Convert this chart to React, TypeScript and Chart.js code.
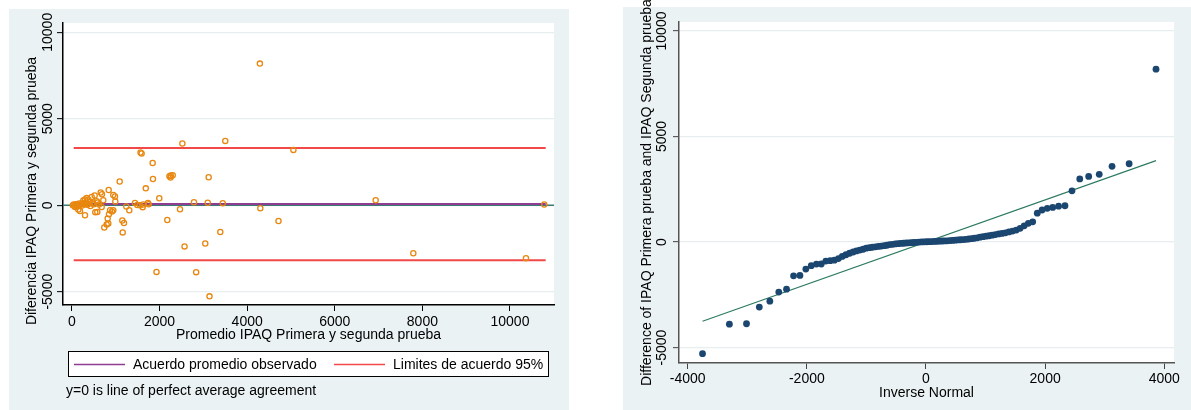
import React, { useEffect, useRef } from 'react';
import { Chart, registerables } from 'chart.js';

Chart.register(...registerables);

const FONT = '"Liberation Sans", Arial, Helvetica, sans-serif';

// ---------- Left panel: Bland-Altman ----------
const BA_AVERAGE = [
  4290, 2520, 3500, 5055, 1565, 1590, 1842, 1849, 1089, 2225,
  2255, 2300, 2250, 3121, 1685, 1993, 2785, 3100, 3443, 6934,
  10783, 4300, 4715, 2466, 2176, 3386, 2570, 3043, 1930, 2835,
  3140, 7793, 10365, 1438, 1491, 1553, 1614, 1735, 1751, 1240,
  1308, 1149, 1187, 1158, 838, 943, 982, 989, 655, 685,
  518, 450, 715, 336, 297, 258, 372, 564, 587, 870,
  913, 943, 845, 815, 829, 792, 737, 297, 532, 578,
  678, 68, 144, 183, 20, 40, 60, 90, 110, 130,
  160, 180, 210, 230, 260, 290, 320, 350, 380, 420,
  460, 500, 620, 400, 1628,
];
const BA_DIFFERENCE = [
  8190, 3570, 3720, 3200, 3050, 2990, 2445, 1520, 1370, 1680,
  1720, 1735, 1600, 1618, 975, 405, 173, 140, 120, 289,
  40, -170, -908, -231, -850, -1550, -2380, -2214, -3855, -3870,
  -5270, -2775, -3064, 133, 17, 0, -110, 133, 58, -75,
  -289, -884, -1030, -1570, 884, 595, 503, 214, 734, 636,
  561, 480, 289, 422, 329, 272, 329, 231, 156, -290,
  -364, -289, -520, -769, -1058, -1116, -1289, -578, -405, -387,
  -98, -98, -249, -329, 0, 40, -30, 60, 20, -60,
  100, 10, 80, -20, 120, 50, 150, 30, 90, -40,
  110, 60, 40, 200, 40,
];
const BA_MEAN_DIFF = 66;
const BA_UPPER_LIMIT = 3312;
const BA_LOWER_LIMIT = -3179;
const BA_PERFECT = 0;
const BA_LINE_X = [39, 10815];
const BA_X_RANGE = [-205, 11005];
const BA_Y_RANGE = [-5769, 10538];
const BA_X_TICKS = [0, 2000, 4000, 6000, 8000, 10000];
const BA_Y_TICKS = [-5000, 0, 5000, 10000];

// ---------- Right panel: normal quantile plot ----------
const QQ_INV_NORMAL = [
  -3751, -3300, -3013, -2798, -2621, -2471, -2341, -2223, -2116, -2017,
  -1926, -1839, -1758, -1681, -1608, -1538, -1470, -1406, -1343, -1282,
  -1223, -1167, -1111, -1055, -1002, -950, -899, -848, -798, -750,
  -703, -655, -607, -561, -517, -470, -426, -380, -335, -291,
  -248, -204, -161, -118, -73, -31, 12, 55, 98, 141,
  183, 228, 271, 314, 358, 401, 445, 490, 536, 580,
  627, 671, 717, 765, 813, 860, 908, 958, 1009, 1060,
  1112, 1165, 1221, 1277, 1333, 1392, 1453, 1516, 1580, 1648,
  1718, 1791, 1868, 1949, 2036, 2127, 2226, 2333, 2451, 2581,
  2731, 2908, 3123, 3410, 3861,
];
const QQ_DIFFERENCE = [
  -5290, -3890, -3870, -3080, -2800, -2370, -2230, -1600, -1580, -1280,
  -1120, -1045, -1040, -900, -880, -860, -780, -680, -600, -530,
  -470, -420, -380, -340, -290, -265, -245, -225, -205, -190,
  -170, -150, -120, -105, -90, -78, -66, -55, -45, -35,
  -28, -20, -10, 0, 5, 10, 15, 20, 25, 30,
  35, 40, 50, 55, 60, 70, 80, 90, 100, 110,
  120, 130, 145, 160, 180, 200, 230, 255, 280, 300,
  325, 355, 385, 410, 440, 480, 520, 570, 650, 770,
  890, 960, 1370, 1520, 1600, 1640, 1700, 1720, 2430, 2990,
  3110, 3210, 3590, 3710, 8190,
];
const QQ_REF_LINE = [-3751, 3861];
const QQ_X_RANGE = [-4146, 4163];
const QQ_Y_RANGE = [-5730, 10427];
const QQ_X_TICKS = [-4000, -2000, 0, 2000, 4000];
const QQ_Y_TICKS = [-5000, 0, 5000, 10000];

// ---------- styles ----------
const PANEL_BG = '#EAF2F3';
const GRID = '#E6EEF0';
const ORANGE = '#E8870F';
const PURPLE = '#8E3D93';
const RED = '#F24848';
const TEAL = '#3B7D74';
const NAVY = '#1B4670';
const QQ_LINE = '#2D7A63';

function drawRotated(ctx: CanvasRenderingContext2D, text: string, x: number, y: number) {
  ctx.save();
  ctx.translate(x, y);
  ctx.rotate(-Math.PI / 2);
  ctx.textAlign = 'center';
  ctx.textBaseline = 'middle';
  ctx.fillText(text, 0, 0);
  ctx.restore();
}

function lineData(x0: number, x1: number, y0: number, y1: number) {
  return [{ x: x0, y: y0 }, { x: x1, y: y1 }];
}

export default function App() {
  const leftRef = useRef<HTMLCanvasElement | null>(null);
  const rightRef = useRef<HTMLCanvasElement | null>(null);

  useEffect(() => {
    const tickFont = { size: 14, family: FONT };

    const leftPlugin = {
      id: 'leftPanel',
      beforeDraw(chart: any) {
        const ctx = chart.ctx;
        const a = chart.chartArea;
        ctx.save();
        ctx.fillStyle = PANEL_BG;
        ctx.fillRect(9, 9, 560, 401);
        ctx.fillStyle = '#fff';
        ctx.fillRect(a.left, a.top, a.right - a.left, a.bottom - a.top);
        ctx.restore();
      },
      afterDraw(chart: any) {
        const ctx = chart.ctx;
        const a = chart.chartArea;
        const ys = chart.scales.y;
        ctx.save();
        ctx.fillStyle = '#000';
        ctx.font = `14px ${FONT}`;
        for (const v of BA_Y_TICKS) drawRotated(ctx, String(v), 48, ys.getPixelForValue(v));
        drawRotated(ctx, 'Diferencia IPAQ Primera y segunda prueba', 32.5, 191);
        ctx.textAlign = 'center';
        ctx.textBaseline = 'middle';
        ctx.fillText('Promedio IPAQ Primera y segunda prueba', (a.left + a.right) / 2, 335.5);
        // legend box
        ctx.fillStyle = '#fff';
        ctx.fillRect(68, 351, 481, 26);
        ctx.strokeStyle = '#000';
        ctx.lineWidth = 1;
        ctx.strokeRect(68.5, 351.5, 480, 25);
        ctx.lineWidth = 1.5;
        ctx.strokeStyle = PURPLE;
        ctx.beginPath();
        ctx.moveTo(74, 364.5);
        ctx.lineTo(125, 364.5);
        ctx.stroke();
        ctx.strokeStyle = RED;
        ctx.beginPath();
        ctx.moveTo(334, 364.5);
        ctx.lineTo(385, 364.5);
        ctx.stroke();
        ctx.fillStyle = '#000';
        ctx.textAlign = 'left';
        ctx.fillText('Acuerdo promedio observado', 133, 365);
        ctx.fillText('Limites de acuerdo 95%', 393, 365);
        ctx.fillText('y=0 is line of perfect average agreement', 66, 391.5);
        ctx.restore();
      },
    };

    const rightPlugin = {
      id: 'rightPanel',
      beforeDraw(chart: any) {
        const ctx = chart.ctx;
        const a = chart.chartArea;
        ctx.save();
        ctx.fillStyle = PANEL_BG;
        ctx.fillRect(28, 7, 568, 403);
        ctx.fillStyle = '#fff';
        ctx.fillRect(a.left, a.top, a.right - a.left, a.bottom - a.top);
        ctx.restore();
      },
      afterDraw(chart: any) {
        const ctx = chart.ctx;
        const a = chart.chartArea;
        const ys = chart.scales.y;
        ctx.save();
        ctx.fillStyle = '#000';
        ctx.font = `14px ${FONT}`;
        for (const v of QQ_Y_TICKS) drawRotated(ctx, String(v), 67.5, ys.getPixelForValue(v));
        drawRotated(ctx, 'Difference of IPAQ Primera prueba and IPAQ Segunda prueba', 52.5, (a.top + a.bottom) / 2);
        ctx.textAlign = 'center';
        ctx.textBaseline = 'middle';
        ctx.fillText('Inverse Normal', (a.left + a.right) / 2, 393.5);
        ctx.restore();
      },
    };

    const leftChart = new Chart(leftRef.current as HTMLCanvasElement, {
      type: 'scatter',
      data: {
        datasets: [
          {
            data: BA_AVERAGE.map((x, i) => ({ x, y: BA_DIFFERENCE[i] })),
            pointRadius: 2.6,
            pointBorderWidth: 1.3,
            pointBorderColor: ORANGE,
            pointBackgroundColor: 'rgba(255,255,255,0)',
            order: 0,
          },
          {
            data: lineData(BA_LINE_X[0], BA_LINE_X[1], BA_MEAN_DIFF, BA_MEAN_DIFF),
            showLine: true, borderColor: PURPLE, borderWidth: 2, pointRadius: 0, order: 1,
          },
          {
            data: lineData(BA_LINE_X[0], BA_LINE_X[1], BA_UPPER_LIMIT, BA_UPPER_LIMIT),
            showLine: true, borderColor: RED, borderWidth: 2, pointRadius: 0, order: 2,
          },
          {
            data: lineData(BA_LINE_X[0], BA_LINE_X[1], BA_LOWER_LIMIT, BA_LOWER_LIMIT),
            showLine: true, borderColor: RED, borderWidth: 2, pointRadius: 0, order: 2,
          },
          {
            data: lineData(BA_X_RANGE[0], BA_X_RANGE[1], BA_PERFECT, BA_PERFECT),
            showLine: true, borderColor: TEAL, borderWidth: 1.5, pointRadius: 0, order: 3,
          },
        ],
      },
      options: {
        responsive: false,
        animation: false,
        events: [],
        layout: { padding: { left: 0, top: 23, right: 41, bottom: 65 } },
        plugins: { legend: { display: false }, tooltip: { enabled: false } },
        scales: {
          x: {
            type: 'linear',
            min: BA_X_RANGE[0],
            max: BA_X_RANGE[1],
            afterBuildTicks: (s: any) => { s.ticks = BA_X_TICKS.map((v) => ({ value: v })); },
            afterFit: (s: any) => { s.height = 40; },
            grid: { drawOnChartArea: false, tickLength: 6, tickColor: '#000', tickWidth: 1 },
            border: { color: '#000', width: 1.5 },
            ticks: { font: tickFont, color: '#000', padding: 3, maxRotation: 0, autoSkip: false, callback: (v: any) => String(v) },
          },
          y: {
            type: 'linear',
            min: BA_Y_RANGE[0],
            max: BA_Y_RANGE[1],
            afterBuildTicks: (s: any) => { s.ticks = BA_Y_TICKS.map((v) => ({ value: v })); },
            afterFit: (s: any) => { s.width = 63; },
            grid: { color: GRID, lineWidth: 1.3, tickLength: 6, tickColor: '#000', tickWidth: 1 },
            border: { color: '#000', width: 1.5 },
            ticks: { display: false },
          },
        },
      } as any,
      plugins: [leftPlugin],
    });

    const rightChart = new Chart(rightRef.current as HTMLCanvasElement, {
      type: 'scatter',
      data: {
        datasets: [
          {
            data: QQ_INV_NORMAL.map((x, i) => ({ x, y: QQ_DIFFERENCE[i] })),
            pointRadius: 3.4,
            pointBorderWidth: 0,
            pointBackgroundColor: NAVY,
            order: 0,
          },
          {
            data: lineData(QQ_REF_LINE[0], QQ_REF_LINE[1], QQ_REF_LINE[0], QQ_REF_LINE[1]),
            showLine: true, borderColor: QQ_LINE, borderWidth: 1.2, pointRadius: 0, order: 1,
          },
        ],
      },
      options: {
        responsive: false,
        animation: false,
        events: [],
        layout: { padding: { left: 0, top: 22, right: 17, bottom: 7 } },
        plugins: { legend: { display: false }, tooltip: { enabled: false } },
        scales: {
          x: {
            type: 'linear',
            min: QQ_X_RANGE[0],
            max: QQ_X_RANGE[1],
            afterBuildTicks: (s: any) => { s.ticks = QQ_X_TICKS.map((v) => ({ value: v })); },
            afterFit: (s: any) => { s.height = 40; },
            grid: { drawOnChartArea: false, tickLength: 6, tickColor: '#444', tickWidth: 1 },
            border: { color: '#555', width: 1.5 },
            ticks: { font: tickFont, color: '#000', padding: 2, maxRotation: 0, autoSkip: false, callback: (v: any) => String(v) },
          },
          y: {
            type: 'linear',
            min: QQ_Y_RANGE[0],
            max: QQ_Y_RANGE[1],
            afterBuildTicks: (s: any) => { s.ticks = QQ_Y_TICKS.map((v) => ({ value: v })); },
            afterFit: (s: any) => { s.width = 84; },
            grid: { color: GRID, lineWidth: 1.3, tickLength: 6, tickColor: '#444', tickWidth: 1 },
            border: { color: '#555', width: 1.5 },
            ticks: { display: false },
          },
        },
      } as any,
      plugins: [rightPlugin],
    });

    return () => {
      leftChart.destroy();
      rightChart.destroy();
    };
  }, []);

  return (
    <div style={{ position: 'absolute', left: 0, top: 0, width: 1191, height: 410, background: '#fff' }}>
      <canvas
        ref={leftRef}
        width={595}
        height={410}
        style={{ position: 'absolute', left: 0, top: 0, width: 595, height: 410 }}
      />
      <canvas
        ref={rightRef}
        width={596}
        height={410}
        style={{ position: 'absolute', left: 595, top: 0, width: 596, height: 410 }}
      />
    </div>
  );
}
